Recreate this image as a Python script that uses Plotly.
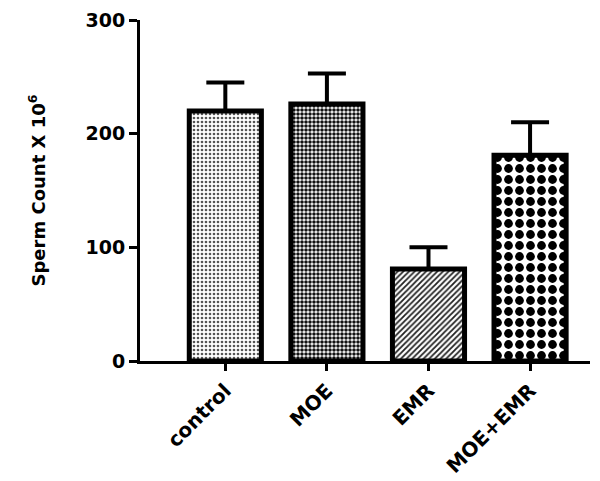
import plotly.graph_objects as go

# Group names and values
groups = ['control', 'MOE', 'EMR', 'MOE+EMR']
means = [220, 226, 81, 181]
sem = [25, 27, 19, 29]

# fill styles per bar
pat_shapes = ['.', '.', '/', '.']
pat_fg = ['#555555', '#111111', '#222222', '#000000']
pat_size = [4, 4, 4, 11]
pat_solid = [0.35, 0.62, 0.45, 0.5]

fig = go.Figure()

for i, g in enumerate(groups):
    fig.add_trace(go.Bar(
        x=[g],
        y=[means[i]],
        width=0.71,
        marker=dict(
            color='white',
            line=dict(color='black', width=5),
            pattern=dict(shape=pat_shapes[i], fgcolor=pat_fg[i], bgcolor='white',
                         size=pat_size[i], solidity=pat_solid[i], fillmode='replace'),
        ),
        error_y=dict(type='data', symmetric=False, array=[sem[i]], arrayminus=[0],
                     color='black', thickness=4, width=19),
        showlegend=False,
    ))

fam = 'DejaVu Sans, Arial, sans-serif'

fig.update_layout(
    width=600, height=481,
    # page body adds an 8px offset, margins compensate for it
    margin=dict(l=132, r=18, t=12, b=128),
    plot_bgcolor='white', paper_bgcolor='white',
    font=dict(family=fam, size=18, color='black', weight='bold'),
    xaxis=dict(
        range=[-0.84, 3.59],
        automargin=False,
        showline=True, linecolor='black', linewidth=3,
        ticks='outside', ticklen=7, tickwidth=3, tickcolor='black',
        tickangle=-45,
        tickfont=dict(family=fam, size=20, color='black', weight='bold'),
        showgrid=False, zeroline=False,
    ),
    yaxis=dict(
        range=[0, 300],
        tickvals=[0, 100, 200, 300],
        automargin=False,
        showline=True, linecolor='black', linewidth=3,
        ticks='outside', ticklen=8, tickwidth=3, tickcolor='black',
        tickfont=dict(family=fam, size=19, color='black', weight='bold'),
        title=dict(text='Sperm Count X 10<sup>6</sup>',
                   font=dict(family=fam, size=18, color='black', weight='bold'),
                   standoff=36),
        showgrid=False, zeroline=False,
    ),
)

fig.write_html("out.html")
